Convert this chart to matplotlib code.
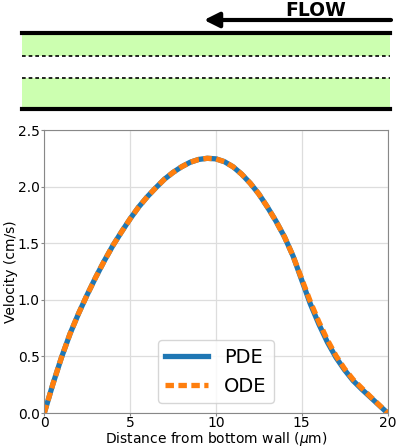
import numpy as np
import matplotlib
matplotlib.use("Agg")
import matplotlib.pyplot as plt

# -------------------------
# Data
# -------------------------
distance = [0, 0.5, 1, 1.5, 2, 2.5, 3, 3.5, 4, 4.5, 5, 5.5, 6, 6.5, 7, 7.5, 8, 8.5, 9, 9.5,
            10, 10.5, 11, 11.5, 12, 12.5, 13, 13.5, 14, 14.5, 15, 15.5, 16, 16.5, 17, 17.5,
            18, 18.5, 19, 19.5, 20]
pde_vel = [0, 0.255, 0.49, 0.70, 0.88, 1.045, 1.20, 1.345, 1.48, 1.60, 1.715, 1.82, 1.91, 1.99,
           2.065, 2.125, 2.175, 2.215, 2.24, 2.25, 2.245, 2.22, 2.175, 2.11, 2.03, 1.935, 1.82,
           1.695, 1.555, 1.385, 1.175, 0.965, 0.785, 0.625, 0.49, 0.38, 0.285, 0.21, 0.14, 0.07, 0]
ode_vel = [0, 0.255, 0.49, 0.70, 0.88, 1.045, 1.20, 1.345, 1.48, 1.60, 1.715, 1.82, 1.91, 1.99,
           2.065, 2.125, 2.175, 2.215, 2.24, 2.25, 2.245, 2.22, 2.175, 2.11, 2.03, 1.935, 1.82,
           1.695, 1.555, 1.385, 1.185, 0.985, 0.805, 0.645, 0.505, 0.39, 0.295, 0.22, 0.145, 0.073, 0]

xticks = [0, 5, 10, 15, 20]
yticks = [0.0, 0.5, 1.0, 1.5, 2.0, 2.5]

W, H = 399, 448
fig = plt.figure(figsize=(W / 100, H / 100), dpi=100)

# -------------------------
# Channel schematic (pixel coords)
# -------------------------
sk = fig.add_axes([0, 0, 1, 1])
sk.set_xlim(0, W)
sk.set_ylim(H, 0)
sk.axis("off")
green = "#ccffb0"
sk.fill_between([22, 390], 33, 56, color=green, lw=0)
sk.fill_between([22, 390], 78, 109, color=green, lw=0)
sk.plot([22, 390], [33, 33], color="black", lw=3)
sk.plot([22, 390], [109, 109], color="black", lw=3)
sk.plot([22, 390], [56, 56], color="black", lw=1.2, dashes=(2.2, 1.8))
sk.plot([22, 390], [78, 78], color="black", lw=1.2, dashes=(2.2, 1.8))
sk.annotate("", xy=(204, 20), xytext=(391, 20),
            arrowprops=dict(arrowstyle="-|>,head_length=0.9,head_width=0.45",
                            color="black", lw=3, shrinkA=0, shrinkB=0))
sk.text(316, 10.5, "FLOW", ha="center", va="center", fontsize=13.5, fontweight="heavy")

# -------------------------
# Velocity profile
# -------------------------
ax = fig.add_axes([44.3 / W, (H - 413) / H, (387.5 - 44.3) / W, (413 - 130) / H])
ax.plot(distance, pde_vel, color="#1f77b4", lw=3.8, label="PDE")
ax.plot(distance, ode_vel, color="#ff7f0e", lw=3.8, dashes=(1.6, 0.85), label="ODE")
ax.set_xlim(0, 20)
ax.set_ylim(0, 2.5)
ax.set_xticks(xticks)
ax.set_yticks(yticks)
ax.tick_params(labelsize=10, color="#888888", length=2.2, pad=1.2)
ax.tick_params(axis="x", pad=0.3)
ax.grid(True, color="#dddddd", lw=0.9)
ax.set_axisbelow(True)
for s in ax.spines.values():
    s.set_color("#888888")
ax.set_xlabel(r"Distance from bottom wall ($\mu$m)", fontsize=10)
ax.set_ylabel("Velocity (cm/s)", fontsize=10)
ax.xaxis.set_label_coords(0.5, -0.061)
ax.yaxis.set_label_coords(-0.078, 0.5)
ax.legend(loc="lower center", fontsize=14, handlelength=2.2, borderaxespad=0.5)

fig.savefig("out.png", dpi=100)
